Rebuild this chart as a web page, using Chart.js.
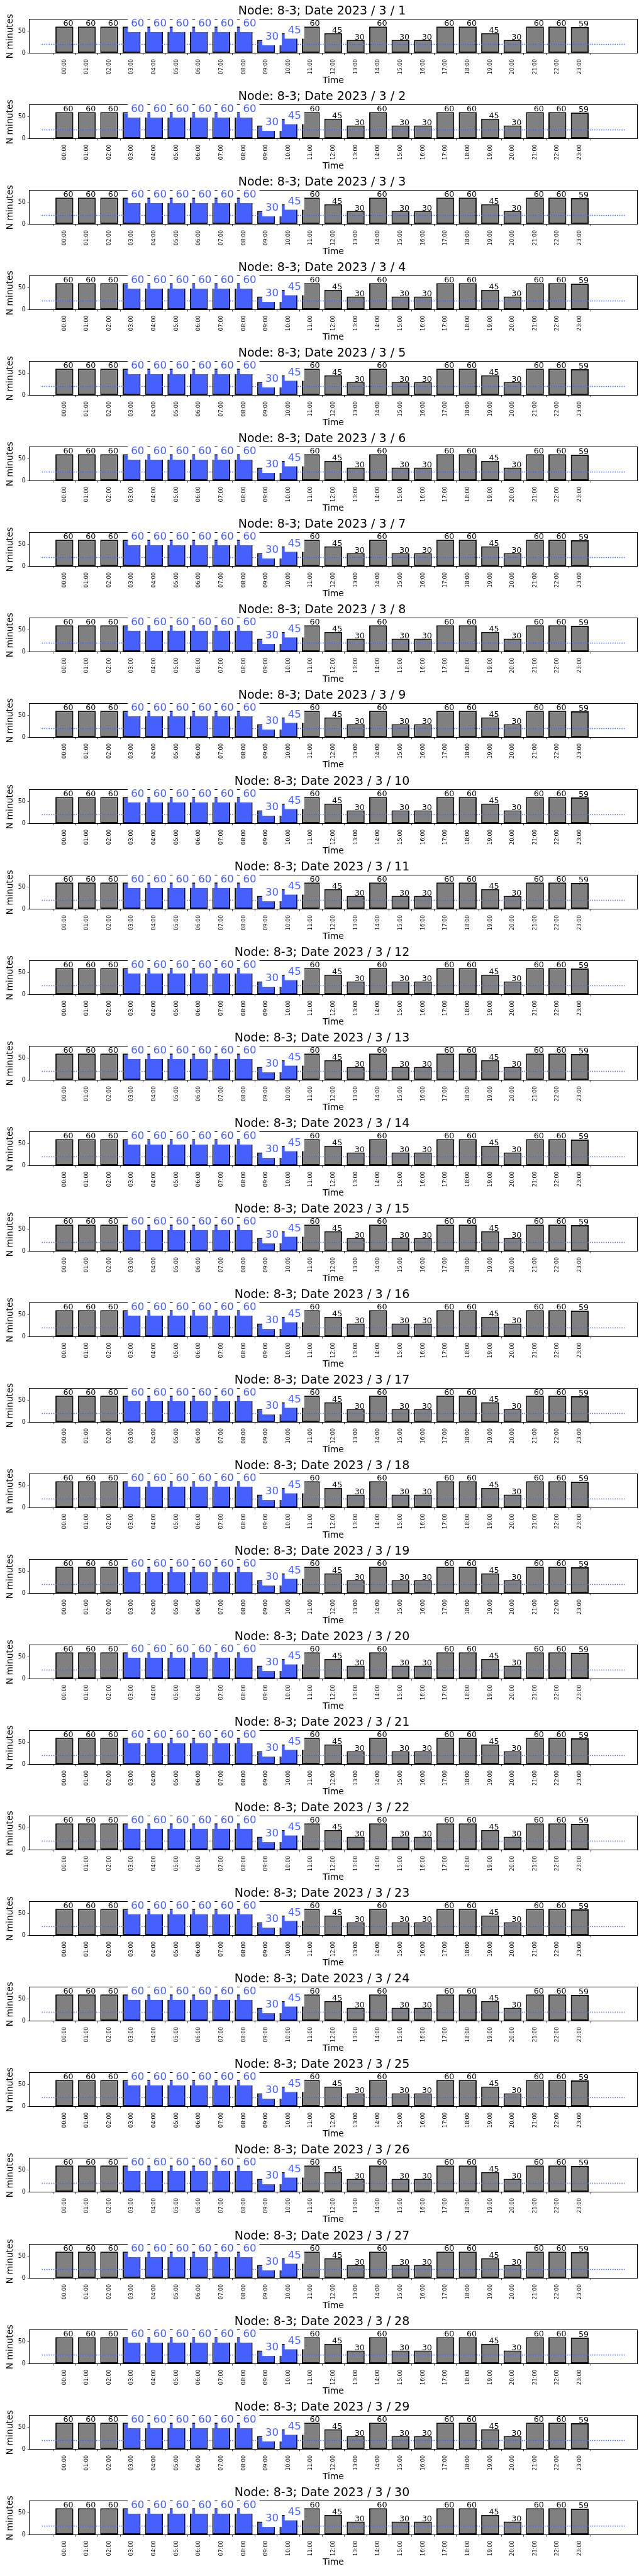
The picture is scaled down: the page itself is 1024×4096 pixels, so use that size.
<!DOCTYPE html>
<html>
<head>
<meta charset="utf-8">
<script src="https://cdn.jsdelivr.net/npm/chart.js@4.4.1/dist/chart.umd.min.js"></script>
<style>
  html, body { margin: 0; padding: 0; background: #fff; }
  #wrap { position: relative; width: 1024px; height: 4096px; background: #fff; overflow: hidden; }
  #wrap canvas { position: absolute; left: 0; }
</style>
</head>
<body>
<div id="wrap"></div>
<script>
// ---------------- data ----------------
const nodeName = '8-3';
const year = 2023;
const month = 3;
const dayNumbers = [1, 2, 3, 4, 5, 6, 7, 8, 9, 10, 11, 12, 13, 14, 15,
                    16, 17, 18, 19, 20, 21, 22, 23, 24, 25, 26, 27, 28, 29, 30];
const hourLabels = ['00:00', '01:00', '02:00', '03:00', '04:00', '05:00', '06:00', '07:00',
                    '08:00', '09:00', '10:00', '11:00', '12:00', '13:00', '14:00', '15:00',
                    '16:00', '17:00', '18:00', '19:00', '20:00', '21:00', '22:00', '23:00'];
// minutes per hour (every day in the reference shows the same values)
const minutesPerHour = [60, 60, 60, 60, 60, 60, 60, 60, 60, 30, 45, 60,
                        45, 30, 60, 30, 30, 60, 60, 45, 30, 60, 60, 59];
const highlightedHours = ['03:00', '04:00', '05:00', '06:00', '07:00', '08:00', '09:00', '10:00'];
const thresholdMinutes = 20;
const yTickValues = [0, 50];
const yAxisMax = 76;
const xAxisRange = [-1, 25];

// ---------------- styling / layout ----------------
const S = 0.682;
const FONT = "'DejaVu Sans', sans-serif";
const GRAY = '#808080';
const BLUE = '#4660ff';
const EDGE = '#111111';
const CANVAS_W = 1024;
const CANVAS_H = 136;
const STEP = 199.5 * S;
const AREA = { left: 68.3 * S, right: 1485.7 * S, top: 45.3 * S, bottom: 124 * S };

const valueLabels = {
  id: 'valueLabels',
  afterDatasetsDraw(chart) {
    const ctx = chart.ctx;
    const meta = chart.getDatasetMeta(0);
    meta.data.forEach((bar, i) => {
      const txt = String(minutesPerHour[i]);
      const hl = highlightedHours.includes(hourLabels[i]);
      ctx.save();
      ctx.textAlign = 'left';
      ctx.textBaseline = 'alphabetic';
      if (hl) {
        const f = 16.6;
        ctx.font = f + 'px ' + FONT;
        const w = ctx.measureText(txt).width;
        const pad = 0.3 * f;
        const x0 = bar.x - 1.0;
        const base = bar.y - 0.2;
        ctx.fillStyle = '#ffffff';
        ctx.fillRect(x0 - pad, base - 0.76 * f - pad, w + 2 * pad, 0.996 * f + 2 * pad);
        ctx.fillStyle = BLUE;
        ctx.fillText(txt, x0, base);
      } else {
        const f = 12.7;
        ctx.font = f + 'px ' + FONT;
        ctx.fillStyle = '#000000';
        ctx.fillText(txt, bar.x - 1.8, bar.y - 0.7);
      }
      ctx.restore();
    });
  }
};

function makeChart(canvas, day) {
  return new Chart(canvas, {
    type: 'bar',
    data: {
      datasets: [
        {
          type: 'bar', order: 5,
          data: hourLabels.map((h, i) => ({ x: i, y: minutesPerHour[i] })),
          backgroundColor: hourLabels.map(h => highlightedHours.includes(h) ? BLUE : GRAY),
          borderColor: EDGE, borderWidth: 3 * S, borderSkipped: false,
          barPercentage: 1, categoryPercentage: 0.8, xAxisID: 'x', yAxisID: 'y'
        },
        {
          type: 'line', order: 0,
          data: xAxisRange.map(x => ({ x: x, y: thresholdMinutes })),
          borderColor: BLUE, borderWidth: 1.5, borderDash: [1.5, 2.1],
          pointRadius: 0, fill: false, xAxisID: 'x', yAxisID: 'y'
        }
      ]
    },
    options: {
      responsive: false, animation: false, events: [],
      layout: { padding: 0 },
      plugins: {
        legend: { display: false },
        tooltip: { enabled: false },
        title: {
          display: true,
          text: 'Node: ' + nodeName + '; Date ' + year + ' / ' + month + ' / ' + day,
          color: '#000',
          font: { family: FONT, size: 19, weight: 'normal', lineHeight: 1.2 },
          padding: { top: 7.03, bottom: 1.07 }
        }
      },
      scales: {
        x: {
          type: 'linear', position: 'bottom', min: xAxisRange[0], max: xAxisRange[1],
          afterBuildTicks: s => { s.ticks = hourLabels.map((_, i) => ({ value: i })); },
          afterFit: s => { s.height = CANVAS_H - AREA.bottom; },
          ticks: { autoSkip: false, minRotation: 90, maxRotation: 90, padding: 6.3,
                   color: '#000', font: { family: FONT, size: 8.5 }, callback: v => hourLabels[v] },
          grid: { display: true, drawOnChartArea: false, drawTicks: true, tickLength: 2.9, tickWidth: 0.8, tickColor: '#000' },
          border: { display: true, color: '#000', width: 1 },
          title: { display: true, text: 'Time', color: '#000',
                   font: { family: FONT, size: 13.9, lineHeight: 1 }, padding: { top: 0, bottom: 0.85 } }
        },
        xTop: {
          type: 'linear', position: 'top', min: xAxisRange[0], max: xAxisRange[1],
          afterFit: s => { s.height = 0; },
          ticks: { display: false }, grid: { display: false, drawTicks: false },
          border: { display: true, color: '#000', width: 1 }
        },
        y: {
          type: 'linear', position: 'left', min: 0, max: yAxisMax,
          afterBuildTicks: s => { s.ticks = yTickValues.map(v => ({ value: v })); },
          afterFit: s => { s.width = AREA.left; },
          ticks: { padding: 2.8, color: '#000', font: { family: FONT, size: 9.6 } },
          grid: { display: true, drawOnChartArea: false, drawTicks: true, tickLength: 2.9, tickWidth: 0.8, tickColor: '#000' },
          border: { display: true, color: '#000', width: 1 },
          title: { display: true, text: 'N minutes', color: '#000',
                   font: { family: FONT, size: 13.9, lineHeight: 1 }, padding: { top: 9.05, bottom: 0 } }
        },
        yRight: {
          type: 'linear', position: 'right', min: 0, max: yAxisMax,
          afterFit: s => { s.width = CANVAS_W - AREA.right; },
          ticks: { display: false }, grid: { display: false, drawTicks: false },
          border: { display: true, color: '#000', width: 1 }
        }
      }
    },
    plugins: [valueLabels]
  });
}

const wrap = document.getElementById('wrap');
dayNumbers.forEach((day, i) => {
  const c = document.createElement('canvas');
  c.width = CANVAS_W; c.height = CANVAS_H;
  c.style.width = CANVAS_W + 'px'; c.style.height = CANVAS_H + 'px';
  c.style.top = Math.round(i * STEP) + 'px';
  wrap.appendChild(c);
  makeChart(c, day);
});
</script>
</body>
</html>
